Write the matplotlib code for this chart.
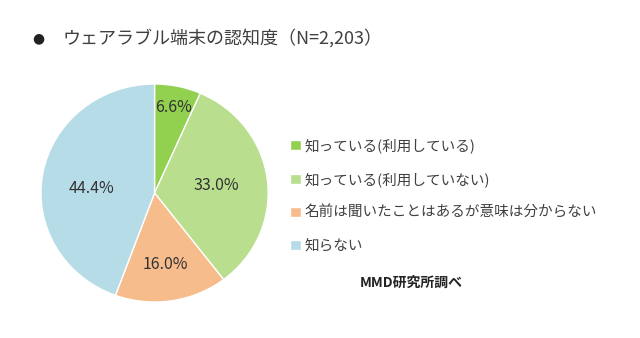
import matplotlib
matplotlib.use("Agg")
import matplotlib.pyplot as plt
import numpy as np

plt.rcParams['font.family'] = ['Noto Sans CJK JP', 'DejaVu Sans']

# データ
labels = ['知っている(利用している)', '知っている(利用していない)',
          '名前は聞いたことはあるが意味は分からない', '知らない']
values = [6.6, 33.0, 16.0, 44.4]
colors = ['#92d050', '#b8de8e', '#f7bc8c', '#b6dce7']
label_dist = [0.80, 0.55, 0.66, 0.56]

fig = plt.figure(figsize=(6.4, 3.38), dpi=100)
ax = fig.add_axes([0.064, 0.1065, 0.355, 0.645])

wedges, _ = ax.pie(values, colors=colors, startangle=90, counterclock=False,
                   wedgeprops=dict(edgecolor='white', linewidth=1.0))
ax.set_aspect('auto')
ax.set_xlim(-1, 1)
ax.set_ylim(-1, 1)

# ラベル
for i, (w, v, d) in enumerate(zip(wedges, values, label_dist)):
    ang = np.deg2rad((w.theta1 + w.theta2) / 2)
    if i == 3:
        ang = np.deg2rad(176)  # 知らない のラベルは少し上寄り
    ax.text(d * np.cos(ang), d * np.sin(ang), f'{v:.1f}%', ha='center', va='center',
            fontsize=11.5, color='#333333')

fig.text(38 / 640, 1 - 38 / 338, '●', fontsize=10, color='#222222', ha='center', va='center',
         family=['DejaVu Sans'])
fig.text(63 / 640, 1 - 38 / 338, 'ウェアラブル端末の認知度（N=2,203）', fontsize=13,
         color='#404040', ha='left', va='center')

fig.legend(wedges, labels, loc='upper left', bbox_to_anchor=(283 / 640, 1 - 131 / 338),
           frameon=False, fontsize=10.5, labelspacing=1.3, handlelength=0.7,
           handleheight=0.7, handletextpad=0.3, borderpad=0, labelcolor='#404040')

fig.text(411 / 640, 1 - 283 / 338, 'MMD研究所調べ', fontsize=10, fontweight='bold',
         color='#222222', ha='center', va='center')

fig.savefig('out.png', dpi=100, facecolor='white')
